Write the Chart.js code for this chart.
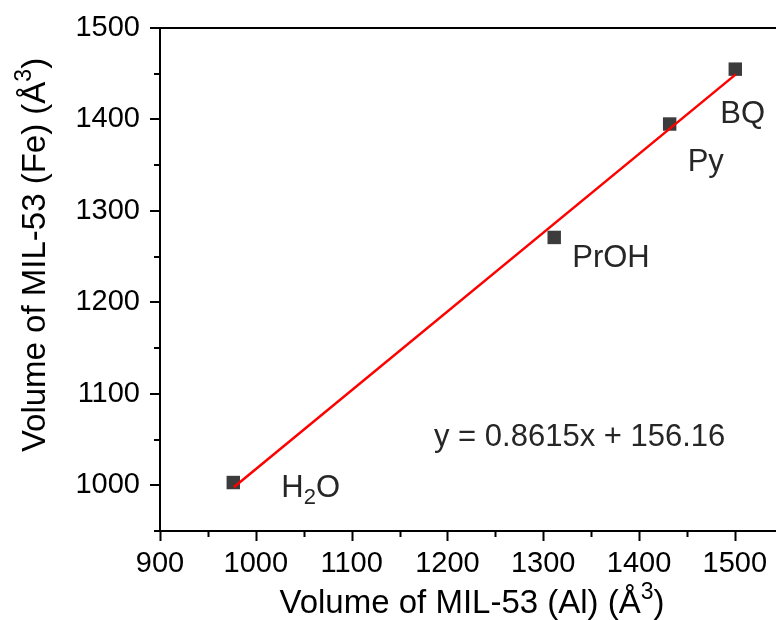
<!DOCTYPE html>
<html>
<head>
<meta charset="utf-8">
<script src="https://cdn.jsdelivr.net/npm/chart.js@4/dist/chart.umd.min.js"></script>
<style>
  html, body { margin: 0; padding: 0; background: #fff; }
  #wrap { width: 776px; height: 620px; }
</style>
</head>
<body>
<div id="wrap"><canvas id="scatter"></canvas></div>
<script>
const samples = ['H2O', 'PrOH', 'Py', 'BQ'];
const volAl = [976.5, 1311.5, 1432, 1500.5];
const volFe = [1003, 1271, 1395, 1455];

const fitX = [977, 1501];
const fitY = [997.8, 1449.3];
const fitText = 'y = 0.8615x + 156.16';

// label offsets from each point, px
const labelOffsets = [[48, 14], [18, 30], [18, 47], [-15, 54]];

const FONT = '"Liberation Sans", Arial, sans-serif';

// draw text with sub/superscript pieces
function richText(ctx, parts, x, y, size) {
    let cx = x;
    parts.forEach(p => {
        const small = p[1] !== '';
        ctx.font = (small ? Math.round(size * 0.7) : size) + 'px ' + FONT;
        const dy = p[1] === 'sub' ? size * 0.25 : p[1] === 'sup' ? -size * 0.42 : 0;
        ctx.fillText(p[0], cx, y + dy);
        cx += ctx.measureText(p[0]).width;
    });
    return cx - x;
}
function richWidth(ctx, parts, size) {
    let w = 0;
    parts.forEach(p => {
        ctx.font = (p[1] !== '' ? Math.round(size * 0.7) : size) + 'px ' + FONT;
        w += ctx.measureText(p[0]).width;
    });
    return w;
}

const xTitle = [['Volume of MIL-53 (Al) (Å', ''], ['3', 'sup'], [')', '']];
const yTitle = [['Volume of MIL-53 (Fe) (Å', ''], ['3', 'sup'], [')', '']];

const boxAndTicks = {
    id: 'boxAndTicks',
    afterDraw(chart) {
        const ctx = chart.ctx;
        const area = chart.chartArea;
        const x = chart.scales.x;
        const y = chart.scales.y;
        ctx.save();
        ctx.strokeStyle = '#000';
        ctx.lineWidth = 2;
        ctx.beginPath();
        ctx.moveTo(area.left, area.top);
        ctx.lineTo(area.right, area.top);
        x.ticks.forEach(t => {
            const px = Math.round(x.getPixelForValue(t.value)) + 0.5;
            const len = t.value % 100 === 0 ? 10 : 6;
            ctx.moveTo(px, area.bottom);
            ctx.lineTo(px, area.bottom + len);
        });
        y.ticks.forEach(t => {
            const py = Math.round(y.getPixelForValue(t.value));
            const len = t.value % 100 === 0 ? 10 : 6;
            ctx.moveTo(area.left, py);
            ctx.lineTo(area.left - len, py);
        });
        ctx.stroke();

        // axis titles
        ctx.fillStyle = '#000';
        ctx.textBaseline = 'alphabetic';
        ctx.textAlign = 'left';
        const tsize = 33;
        let w = richWidth(ctx, xTitle, tsize);
        richText(ctx, xTitle, 472 - w / 2, 613, tsize);
        w = richWidth(ctx, yTitle, tsize);
        ctx.save();
        ctx.translate(45, 255);
        ctx.rotate(-Math.PI / 2);
        richText(ctx, yTitle, -w / 2, 0, tsize);
        ctx.restore();

        // sample labels
        ctx.fillStyle = '#262626';
        const lsize = 31;
        samples.forEach((s, i) => {
            const px = x.getPixelForValue(volAl[i]) + labelOffsets[i][0];
            const py = y.getPixelForValue(volFe[i]) + labelOffsets[i][1];
            if (s === 'H2O') {
                richText(ctx, [['H', ''], ['2', 'sub'], ['O', '']], px, py, lsize);
            } else {
                ctx.font = lsize + 'px ' + FONT;
                ctx.fillText(s, px, py);
            }
        });
        ctx.font = lsize + 'px ' + FONT;
        ctx.fillText(fitText, x.getPixelForValue(1186), y.getPixelForValue(1043));
        ctx.restore();
    }
};

new Chart(document.getElementById('scatter'), {
    type: 'scatter',
    data: {
        datasets: [{
            label: 'data',
            data: volAl.map((v, i) => ({x: v, y: volFe[i]})),
            pointStyle: 'rect',
            pointRadius: 9.5,
            pointHoverRadius: 9.5,
            backgroundColor: '#3c3c3c',
            borderColor: '#3c3c3c',
            borderWidth: 0,
            order: 2
        }, {
            label: 'fit',
            type: 'line',
            data: fitX.map((v, i) => ({x: v, y: fitY[i]})),
            borderColor: '#ff0000',
            borderWidth: 2.5,
            pointRadius: 0,
            fill: false,
            order: 1
        }]
    },
    options: {
        responsive: true,
        maintainAspectRatio: false,
        animation: false,
        layout: { autoPadding: false, padding: { top: 28, right: 0, left: 0, bottom: 0 } },
        plugins: {
            legend: { display: false },
            tooltip: { enabled: false }
        },
        scales: {
            x: {
                type: 'linear',
                min: 900,
                max: 1543,
                afterFit: s => {
                    s.height = 89;
                    s.paddingLeft = 0;
                    s.paddingRight = 0;
                },
                grid: { display: false },
                border: { display: true, color: '#000', width: 2 },
                ticks: {
                    stepSize: 50,
                    includeBounds: false,
                    padding: 8,
                    color: '#000',
                    font: { family: FONT, size: 29 },
                    maxRotation: 0,
                    autoSkip: false,
                    callback: v => v % 100 === 0 ? v : ''
                }
            },
            y: {
                type: 'linear',
                min: 950,
                max: 1500,
                afterFit: s => {
                    s.width = 160;
                    s.paddingTop = 0;
                    s.paddingBottom = 0;
                },
                grid: { display: false },
                border: { display: true, color: '#000', width: 2 },
                ticks: {
                    stepSize: 50,
                    padding: 12,
                    color: '#000',
                    font: { family: FONT, size: 29 },
                    autoSkip: false,
                    callback: v => v % 100 === 0 ? v : ''
                }
            }
        }
    },
    plugins: [boxAndTicks]
});
</script>
</body>
</html>
